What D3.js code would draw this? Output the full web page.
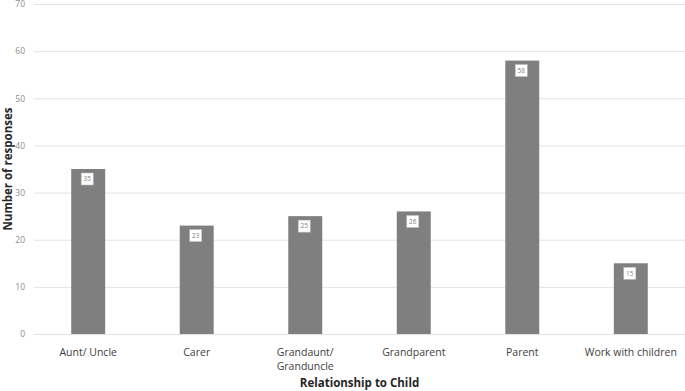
<!DOCTYPE html>
<html>
<head>
<meta charset="utf-8">
<script src="https://cdn.jsdelivr.net/npm/d3@7"></script>
<style>
  body { margin: 0; background: #fff; }
  text { font-family: "Open Sans", "Liberation Sans", sans-serif; }
</style>
</head>
<body>
<div id="chart"></div>
<script>
// Chart data
const categories = ["Aunt/ Uncle", "Carer", "Grandaunt/\nGranduncle", "Grandparent", "Parent", "Work with children"];
const responses = [35, 23, 25, 26, 58, 15];
const yTicks = [0, 10, 20, 30, 40, 50, 60, 70];

const width = 685, height = 391;
const margin = {top: 4, right: 0, bottom: 57, left: 34};

const svg = d3.select("#chart").append("svg")
  .attr("width", width)
  .attr("height", height);

const x = d3.scaleBand()
  .domain(categories)
  .range([margin.left, width - margin.right])
  .paddingInner(0.687)
  .paddingOuter(0.343);

const y = d3.scaleLinear()
  .domain([0, 70])
  .range([height - margin.bottom, margin.top]);

// Gridlines + y labels
const yAxis = svg.append("g")
  .attr("transform", `translate(${margin.left},0)`)
  .call(d3.axisLeft(y).tickValues(yTicks).tickSize(-(width - margin.left - margin.right)).tickPadding(9));
yAxis.select(".domain").remove();
yAxis.selectAll(".tick line").attr("stroke", "#e3e3e3").attr("stroke-width", 1);
yAxis.selectAll(".tick text")
  .attr("fill", "#8c8c8c")
  .style("font-size", "8.5px");

// Bars
svg.selectAll("rect.bar")
  .data(responses)
  .enter()
  .append("rect")
  .attr("class", "bar")
  .attr("x", (d, i) => x(categories[i]))
  .attr("width", x.bandwidth())
  .attr("y", d => y(d))
  .attr("height", d => y(0) - y(d))
  .attr("fill", "#7f7f7f");

// Value label boxes
const lbl = svg.selectAll("g.lbl")
  .data(responses)
  .enter()
  .append("g")
  .attr("class", "lbl")
  .attr("transform", (d, i) => `translate(${x(categories[i]) + x.bandwidth() / 2 - 1},${y(d) + 10})`);

lbl.append("rect")
  .attr("x", -6)
  .attr("y", -6)
  .attr("width", 12)
  .attr("height", 12)
  .attr("fill", "#fff")
  .attr("stroke", "#bfbfbf")
  .attr("stroke-width", 0.6);

lbl.append("text")
  .attr("text-anchor", "middle")
  .attr("dy", "0.35em")
  .attr("fill", "#7f7f7f")
  .style("font-size", "6.5px")
  .text(d => d);

// X category labels
const xl = svg.selectAll("text.xlab")
  .data(categories)
  .enter()
  .append("text")
  .attr("class", "xlab")
  .attr("text-anchor", "middle")
  .attr("x", d => x(d) + x.bandwidth() / 2)
  .attr("y", 356)
  .attr("fill", "#404040")
  .style("font-size", "10.5px");
xl.each(function(d) {
  const lines = d.split("\n");
  const t = d3.select(this);
  lines.forEach((l, j) => {
    t.append("tspan")
      .attr("x", x(d) + x.bandwidth() / 2)
      .attr("dy", j === 0 ? 0 : 14)
      .text(l);
  });
});

// Axis titles
svg.append("text")
  .attr("x", (margin.left + width - margin.right) / 2)
  .attr("y", 387)
  .attr("text-anchor", "middle")
  .attr("fill", "#262626")
  .style("font-size", "11.5px")
  .style("font-weight", "bold")
  .text("Relationship to Child");

svg.append("text")
  .attr("transform", "rotate(-90)")
  .attr("x", -(margin.top + height - margin.bottom) / 2)
  .attr("y", 12)
  .attr("text-anchor", "middle")
  .attr("fill", "#262626")
  .style("font-size", "11.5px")
  .style("font-weight", "bold")
  .text("Number of responses");
</script>
</body>
</html>
